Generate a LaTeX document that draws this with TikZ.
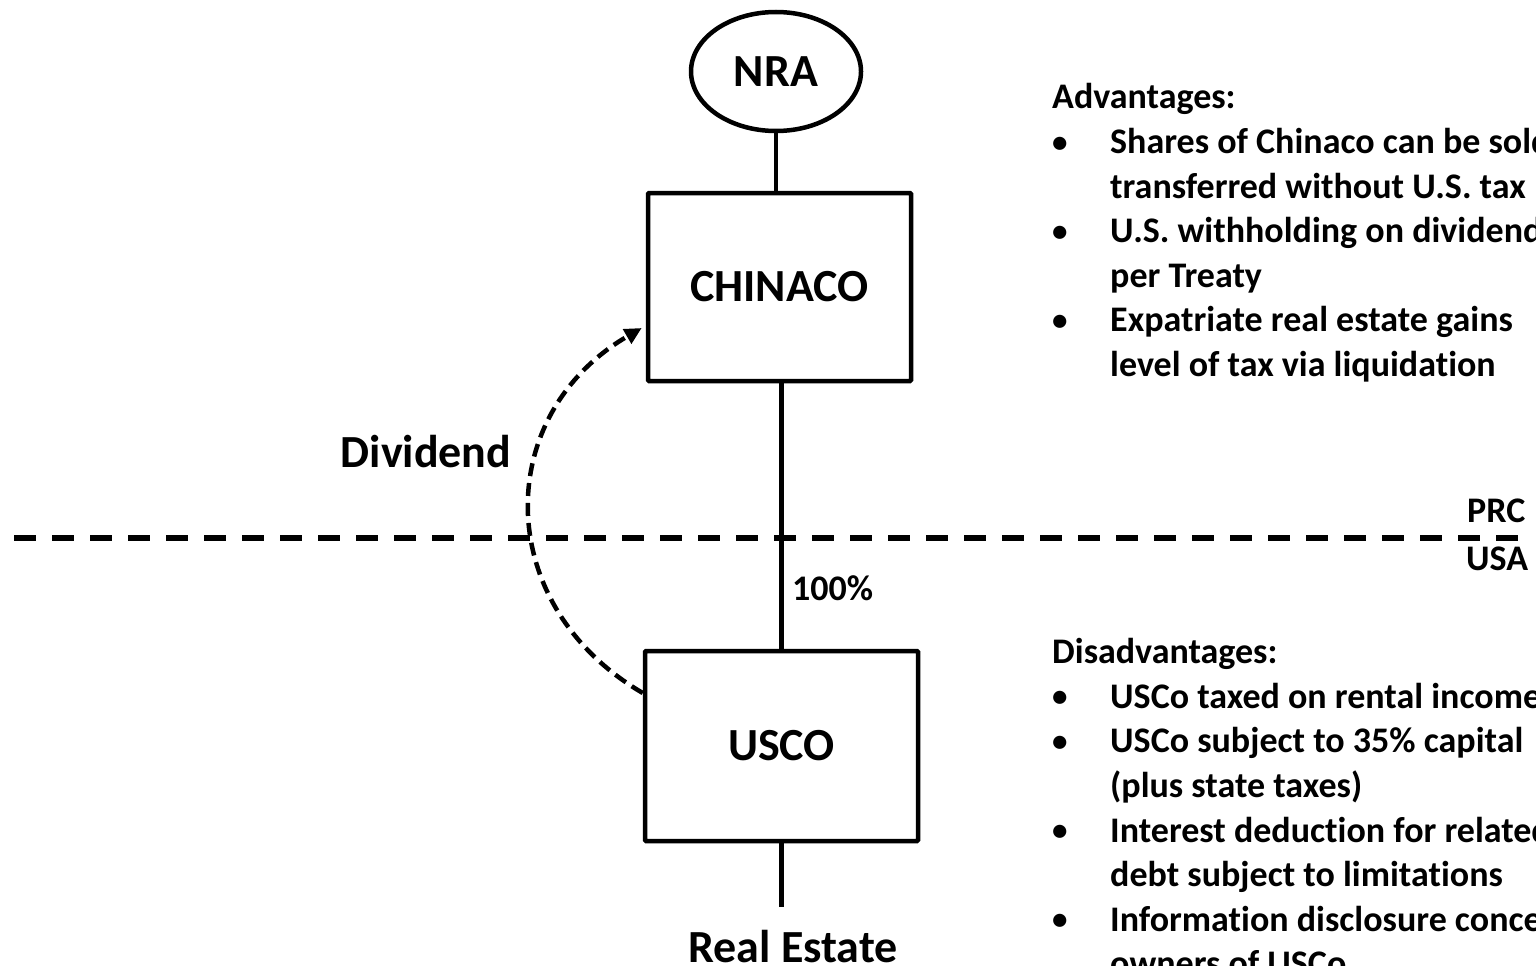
\documentclass[tikz,border=0pt]{standalone}
\usepackage{fontspec}
\setmainfont{Carlito}[Ligatures=NoCommon]
\usetikzlibrary{arrows.meta,shapes.geometric}

\newcommand{\bigtype}{\fontsize{46}{55}\selectfont\bfseries}
\newcommand{\smalltype}{\fontsize{36}{44.6}\selectfont\bfseries}
\newcommand{\bul}{\makebox[58pt][l]{\raisebox{1.5pt}{\fontsize{31}{31}\selectfont\textbullet}}}
\newcommand{\ind}{\hspace*{58pt}}

\tikzset{
  entity/.style={draw, line width=4.5pt, rounded corners=1pt, inner sep=0pt, font=\bigtype},
  owner/.style={draw, ellipse, line width=4.5pt, inner sep=0pt,
    minimum width=170pt, minimum height=119pt, font=\bigtype},
  link/.style={line width=4.5pt},
  border/.style={line width=5.5pt, dash pattern=on 22pt off 16pt},
  flow/.style={line width=4.5pt, dash pattern=on 13pt off 7pt,
    -{Triangle[length=17pt,width=16pt]}},
  biglabel/.style={font=\bigtype, inner sep=0pt, anchor=base},
  smalllabel/.style={font=\smalltype, inner sep=0pt, anchor=base west},
  note/.style={font=\smalltype, inner sep=0pt, anchor=base west}
}

\begin{document}
\begin{tikzpicture}[x=1pt, y=-1pt]
  \useasboundingbox (0,0) rectangle (1536,966);
  \clip (0,0) rectangle (1536,966);

  % ownership chain
  \node[owner] (nra) at (776,71.5) {NRA};
  \node[entity, minimum width=263pt, minimum height=188pt] (chinaco) at (779.5,287) {CHINACO};
  \node[entity, minimum width=273pt, minimum height=190pt] (usco) at (781.5,746) {USCO};
  \node[biglabel] (realestate) at (793,962) {Real Estate};

  \draw[link] (nra.south) -- (nra.south |- chinaco.north);
  \draw[link] (usco.north) -- (usco.north |- chinaco.south);
  \draw[link, shorten >=23pt] (usco.south) -- (usco.south |- realestate.north);
  \node[smalllabel] (share) at (792,600.5) {100\%};

  % jurisdiction border
  \coordinate (borderW) at (14,538);
  \coordinate (borderE) at (1518,538);
  \draw[border] (borderW) -- (borderE);
  \node[smalllabel] (prc) at (1467,522) {PRC};
  \node[smalllabel] (usa) at (1466,570) {USA};

  % dividend flow
  \draw[flow] (usco.west |- 0,693) .. controls (492,605) and (492,415) .. ([xshift=-4pt]chinaco.west |- 0,328);
  \node[biglabel] (dividend) at (426,467) {Dividend};

  % advantages
  \node[note] (adv0) at (1052,108.5) {Advantages:};
  \node[note] (adv1) at (1052,153.5) {\bul Shares of Chinaco can be sold};
  \node[note] (adv2) at (1052,198) {\ind transferred without U.S. tax};
  \node[note] (adv3) at (1052,242.5) {\bul U.S. withholding on dividends};
  \node[note] (adv4) at (1052,287) {\ind per Treaty};
  \node[note] (adv5) at (1052,331.5) {\bul Expatriate real estate gains};
  \node[note] (adv6) at (1052,376) {\ind level of tax via liquidation};

  % disadvantages
  \node[note] (dis0) at (1052,663.5) {Disadvantages:};
  \node[note] (dis1) at (1052,708) {\bul USCo taxed on rental income};
  \node[note] (dis2) at (1052,752.7) {\bul USCo subject to 35\% capital};
  \node[note] (dis3) at (1052,797.3) {\ind (plus state taxes)};
  \node[note] (dis4) at (1052,842) {\bul Interest deduction for related};
  \node[note] (dis5) at (1052,886.5) {\ind debt subject to limitations};
  \node[note] (dis6) at (1052,931) {\bul Information disclosure concerning};
  \node[note] (dis7) at (1052,975.7) {\ind owners of USCo};
\end{tikzpicture}
\end{document}
